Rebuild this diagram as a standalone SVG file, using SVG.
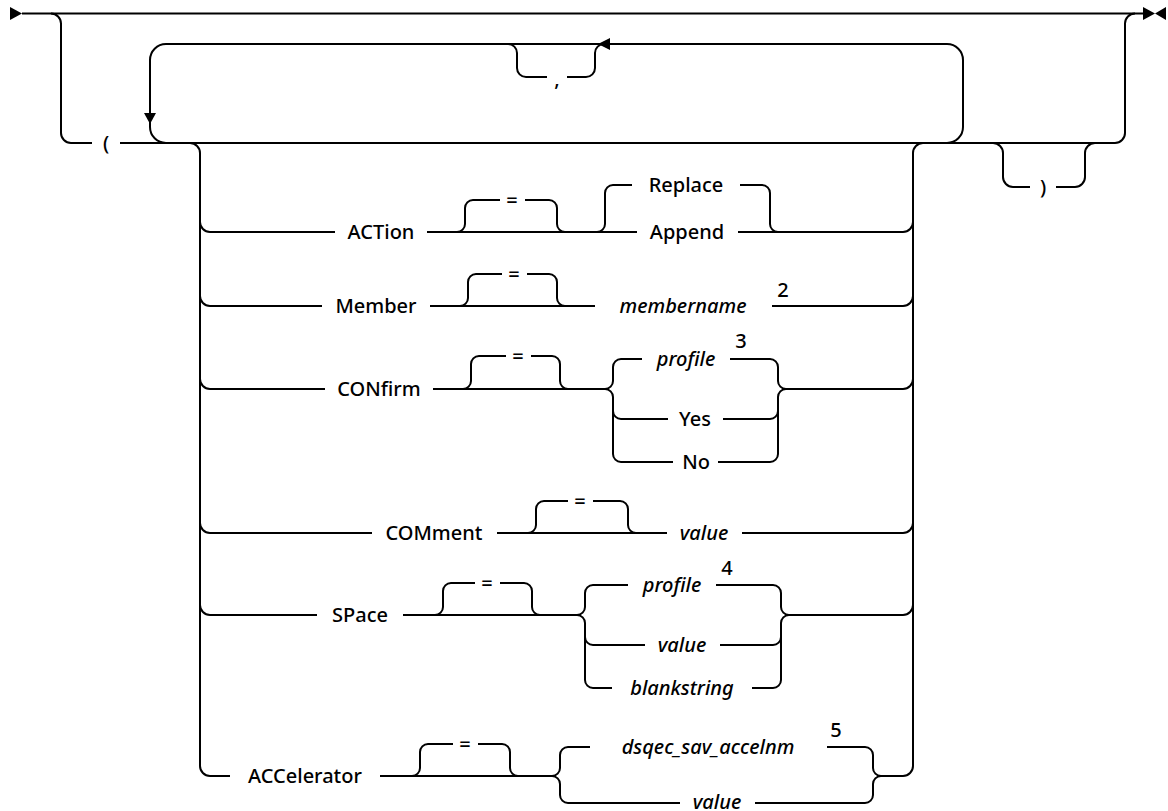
<svg xmlns="http://www.w3.org/2000/svg" width="1168" height="811" viewBox="0 0 1168 811">
<style>
.ln{fill:none;stroke:#000;stroke-width:2}
.ah{fill:#000;stroke:none}
.t{font-family:"Noto Sans","Liberation Sans",sans-serif;font-size:20px;font-weight:500;text-anchor:middle;fill:#000}
.i{font-style:italic}
</style>
<rect width="1168" height="811" fill="#fff"/>
<g id="connectors">
<path class="ln" d="M22,13.5 H1143"/>
<path class="ln" d="M51,13.5 a10,10 0 0 1 10,10 V133 a10,10 0 0 0 10,10 H92"/>
<path class="ln" d="M120,143 H1115 a10,10 0 0 0 10,-10 V23.5 a10,10 0 0 1 10,-10"/>
<path class="ln" d="M947,143 a16,16 0 0 0 16,-16 V60 a16,16 0 0 0 -16,-16 H166 a16,16 0 0 0 -16,16 V127 a16,16 0 0 0 16,16"/>
<path class="ln" d="M508,44 a9,9 0 0 1 9,9 V68 a9,9 0 0 0 9,9 H547 M567,77 H586 a9,9 0 0 0 9,-9 V53 a9,9 0 0 1 9,-9"/>
<path class="ln" d="M993,143 a10,10 0 0 1 10,10 V177 a10,10 0 0 0 10,10 H1030 M1056,187 H1075 a10,10 0 0 0 10,-10 V153 a10,10 0 0 1 10,-10"/>
<path class="ln" d="M190,143 a10,10 0 0 1 10,10 V766 a10,10 0 0 0 10,10 H230"/>
<path class="ln" d="M903,776 a10,10 0 0 0 10,-10 V153 a10,10 0 0 1 10,-10"/>
<!-- ACTion -->
<path class="ln" d="M200,222 a10,10 0 0 0 10,10 H335 M427,232 H637 M738,232 H903 a10,10 0 0 0 10,-10"/>
<path class="ln" d="M457,232 a8,8 0 0 0 8,-8 V208 a8,8 0 0 1 8,-8 H500 M525,200 H549 a8,8 0 0 1 8,8 V224 a8,8 0 0 0 8,8"/>
<path class="ln" d="M597,232 a8,8 0 0 0 8,-8 V193 a8,8 0 0 1 8,-8 H632 M740,185 H762 a8,8 0 0 1 8,8 V224 a8,8 0 0 0 8,8"/>
<!-- Member -->
<path class="ln" d="M200,296 a10,10 0 0 0 10,10 H322 M430,306 H595 M772,306 H903 a10,10 0 0 0 10,-10"/>
<path class="ln" d="M460,306 a8,8 0 0 0 8,-8 V282 a8,8 0 0 1 8,-8 H502 M527,274 H549 a8,8 0 0 1 8,8 V298 a8,8 0 0 0 8,8"/>
<!-- CONfirm -->
<path class="ln" d="M200,379 a10,10 0 0 0 10,10 H325 M433,389 H605 M786,389 H903 a10,10 0 0 0 10,-10"/>
<path class="ln" d="M463,389 a8,8 0 0 0 8,-8 V364 a8,8 0 0 1 8,-8 H506 M531,356 H552 a8,8 0 0 1 8,8 V381 a8,8 0 0 0 8,8"/>
<path class="ln" d="M605,389 a8,8 0 0 0 8,-8 V367 a8,8 0 0 1 8,-8 H642 M605,389 a8,8 0 0 1 8,8 V454 a8,8 0 0 0 8,8 H673 M613,411 a8,8 0 0 0 8,8 H668"/>
<path class="ln" d="M730,359 H770 a8,8 0 0 1 8,8 V381 a8,8 0 0 0 8,8 M718,462 H770 a8,8 0 0 0 8,-8 V397 a8,8 0 0 1 8,-8 M723,419 H770 a8,8 0 0 0 8,-8"/>
<!-- COMment -->
<path class="ln" d="M200,523 a10,10 0 0 0 10,10 H372 M497,533 H667 M742,533 H903 a10,10 0 0 0 10,-10"/>
<path class="ln" d="M528,533 a8,8 0 0 0 8,-8 V509 a8,8 0 0 1 8,-8 H568 M593,501 H620 a8,8 0 0 1 8,8 V525 a8,8 0 0 0 8,8"/>
<!-- SPace -->
<path class="ln" d="M200,605 a10,10 0 0 0 10,10 H317 M403,615 H577 M789,615 H903 a10,10 0 0 0 10,-10"/>
<path class="ln" d="M435,615 a8,8 0 0 0 8,-8 V591 a8,8 0 0 1 8,-8 H475 M500,583 H524 a8,8 0 0 1 8,8 V607 a8,8 0 0 0 8,8"/>
<path class="ln" d="M577,615 a8,8 0 0 0 8,-8 V593 a8,8 0 0 1 8,-8 H628 M577,615 a8,8 0 0 1 8,8 V680 a8,8 0 0 0 8,8 H612 M585,637 a8,8 0 0 0 8,8 H645"/>
<path class="ln" d="M716,585 H773 a8,8 0 0 1 8,8 V607 a8,8 0 0 0 8,8 M752,688 H773 a8,8 0 0 0 8,-8 V623 a8,8 0 0 1 8,-8 M720,645 H773 a8,8 0 0 0 8,-8"/>
<!-- ACCelerator -->
<path class="ln" d="M380,776 H552 M881,776 H903"/>
<path class="ln" d="M412,776 a8,8 0 0 0 8,-8 V752 a8,8 0 0 1 8,-8 H453 M478,744 H502 a8,8 0 0 1 8,8 V768 a8,8 0 0 0 8,8"/>
<path class="ln" d="M552,776 a8,8 0 0 0 8,-8 V755 a8,8 0 0 1 8,-8 H590 M552,776 a8,8 0 0 1 8,8 V795 a8,8 0 0 0 8,8 H680"/>
<path class="ln" d="M827,747 H865 a8,8 0 0 1 8,8 V768 a8,8 0 0 0 8,8 M755,803 H865 a8,8 0 0 0 8,-8 V784 a8,8 0 0 1 8,-8"/>
<!-- arrowheads -->
<polygon class="ah" points="10,7 10,20 22,13.5"/>
<polygon class="ah" points="1143,7 1143,20 1155,13.5"/>
<polygon class="ah" points="1166,7 1166,20 1155,13.5"/>
<polygon class="ah" points="144,113 156,113 150,124"/>
<polygon class="ah" points="598,44 610,38 610,50"/>
</g>
<g id="n-paren-open"><text class="t" x="106" y="150">(</text></g>
<g id="n-comma"><text class="t" x="557" y="86">,</text></g>
<g id="n-paren-close"><text class="t" x="1043" y="194">)</text></g>
<g id="n-action"><text class="t" x="381" y="239">ACTion</text></g>
<g id="n-action-eq"><text class="t" x="512" y="207">=</text></g>
<g id="n-replace"><text class="t" x="686" y="192">Replace</text></g>
<g id="n-append"><text class="t" x="687" y="239">Append</text></g>
<g id="n-member"><text class="t" x="376" y="313">Member</text></g>
<g id="n-member-eq"><text class="t" x="514" y="281">=</text></g>
<g id="n-membername"><text class="t i" x="683" y="313">membername</text><text class="t" x="783" y="297">2</text></g>
<g id="n-confirm"><text class="t" x="379" y="396">CONfirm</text></g>
<g id="n-confirm-eq"><text class="t" x="518" y="363">=</text></g>
<g id="n-confirm-profile"><text class="t i" x="686" y="366">profile</text><text class="t" x="741" y="348">3</text></g>
<g id="n-yes"><text class="t" x="695" y="426">Yes</text></g>
<g id="n-no"><text class="t" x="696" y="469">No</text></g>
<g id="n-comment"><text class="t" x="434" y="540">COMment</text></g>
<g id="n-comment-eq"><text class="t" x="580" y="508">=</text></g>
<g id="n-comment-value"><text class="t i" x="704" y="540">value</text></g>
<g id="n-space"><text class="t" x="360" y="622">SPace</text></g>
<g id="n-space-eq"><text class="t" x="487" y="590">=</text></g>
<g id="n-space-profile"><text class="t i" x="672" y="592">profile</text><text class="t" x="727" y="575">4</text></g>
<g id="n-space-value"><text class="t i" x="682" y="652">value</text></g>
<g id="n-blankstring"><text class="t i" x="682" y="695">blankstring</text></g>
<g id="n-accelerator"><text class="t" x="305" y="783">ACCelerator</text></g>
<g id="n-accel-eq"><text class="t" x="465" y="751">=</text></g>
<g id="n-dsqec"><text class="t i" x="708" y="754">dsqec_sav_accelnm</text><text class="t" x="836" y="737">5</text></g>
<g id="n-accel-value"><text class="t i" x="717" y="809">value</text></g>
</svg>
